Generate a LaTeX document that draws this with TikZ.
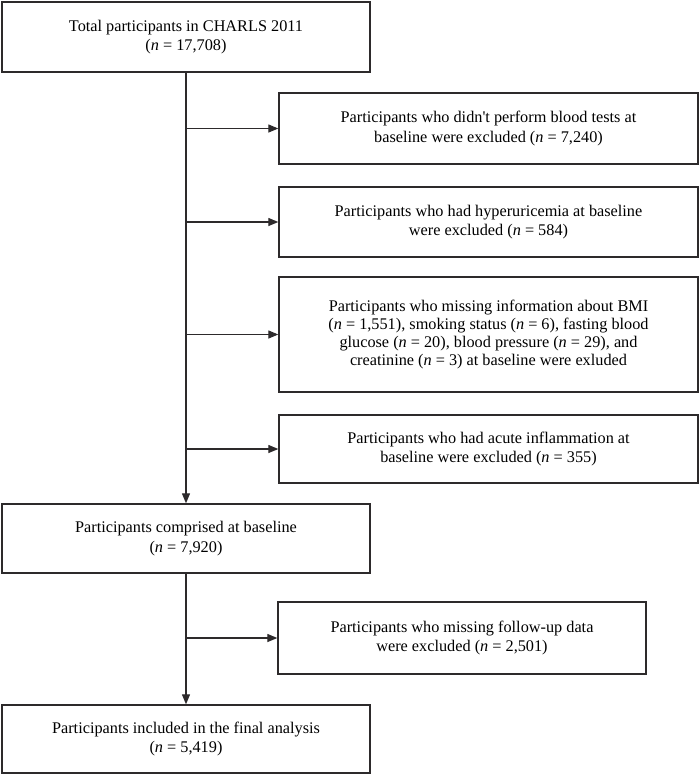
\documentclass[tikz,border=0pt]{standalone}
\usepackage{fontspec}
\setmainfont{Liberation Serif}
\usetikzlibrary{arrows.meta}

\definecolor{boxline}{RGB}{45,42,43}
\tikzset{every picture/.style={line width=0.75pt}}
\tikzset{
  box/.style={draw=boxline, line width=1pt, align=center, inner sep=0pt,
    minimum width=276pt, minimum height=52.5pt,
    font=\fontsize{12.2}{14.5}\selectfont},
  exbox/.style={box, minimum width=314.25pt},
  arr/.style={draw=boxline, line width=0.9pt, -{Triangle[length=7.5pt,width=6pt]}}
}

\begin{document}
\begin{tikzpicture}[x=0.75pt,y=0.75pt,yscale=-1,xscale=1]
	\useasboundingbox (0,0) rectangle (700,776);

	% Main boxes
	\node[box] (total) at (186,37) {Total participants in CHARLS 2011\\(\textit{n} = 17,708)};
	\node[box, minimum height=51.75pt] (base) at (186,538.5) {Participants comprised at baseline\\(\textit{n} = 7,920)};
	\node[box, minimum height=51pt] (final) at (186,739) {Participants included in the final analysis\\(\textit{n} = 5,419)};

	% Exclusion boxes
	\node[exbox, minimum height=53.25pt] (noblood) at (488.5,128.5) {Participants who didn\textquotesingle t perform blood tests at\\baseline were excluded (\textit{n} = 7,240)};
	\node[exbox] (hyper) at (488.5,222) {Participants who had hyperuricemia at baseline\\were excluded (\textit{n} = 584)};
	\node[exbox, minimum height=86.25pt, font=\fontsize{12.2}{13.5}\selectfont] (missing) at (488.5,334.5) {Participants who missing information about BMI\\(\textit{n} = 1,551), smoking status (\textit{n} = 6), fasting blood\\glucose (\textit{n} = 20), blood pressure (\textit{n} = 29), and\\creatinine (\textit{n} = 3) at baseline were exluded};
	\node[exbox, minimum height=51pt] (inflam) at (488.5,449) {Participants who had acute inflammation at\\baseline were excluded (\textit{n} = 355)};
	\node[box, minimum height=54pt] (follow) at (462,638) {Participants who missing follow-up data\\were excluded (\textit{n} = 2,501)};

	% Connectors
	\draw[arr] (total.south) -- (base.north);
	\draw[arr] (total.south |- noblood.west) -- (noblood.west);
	\draw[arr] (total.south |- hyper.west) -- (hyper.west);
	\draw[arr] (total.south |- missing.west) -- (missing.west);
	\draw[arr] (total.south |- inflam.west) -- (inflam.west);
	\draw[arr] (base.south) -- (final.north);
	\draw[arr] (base.south |- follow.west) -- (follow.west);

\end{tikzpicture}
\end{document}
